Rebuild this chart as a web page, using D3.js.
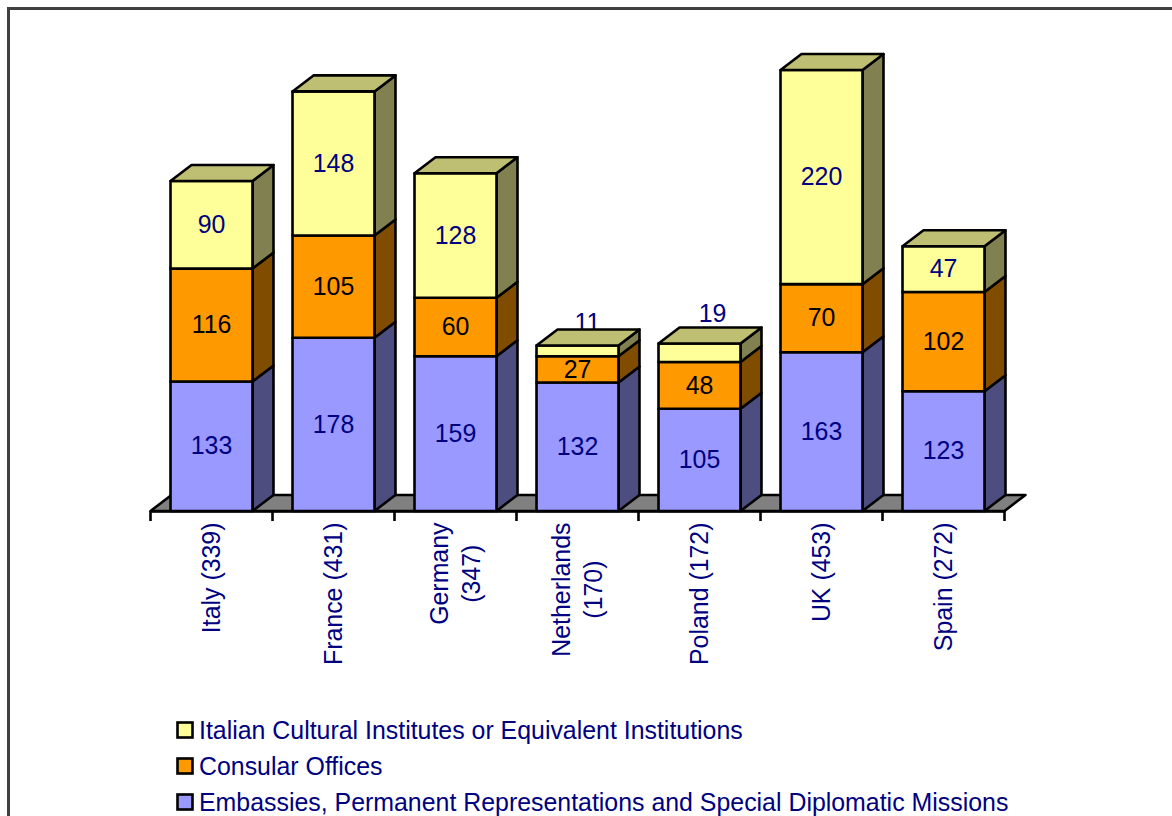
<!DOCTYPE html>
<html><head><meta charset="utf-8">
<script src="https://cdn.jsdelivr.net/npm/d3@7/dist/d3.min.js"></script>
<style>html,body{margin:0;padding:0;background:#fff;overflow:hidden}svg{display:block}text{font-family:"Liberation Sans",Arial,sans-serif}</style>
</head><body><svg id="c" width="1172" height="816"></svg>
<script>
const categories = ["Italy (339)","France (431)","Germany (347)","Netherlands (170)","Poland (172)","UK (453)","Spain (272)"];
const axisLines = [["Italy (339)"],["France (431)"],["Germany","(347)"],["Netherlands","(170)"],["Poland (172)"],["UK (453)"],["Spain (272)"]];
const embassies = [133,178,159,132,105,163,123];
const consular = [116,105,60,27,48,70,102];
const institutes = [90,148,128,11,19,220,47];
const seriesNames = ["Embassies, Permanent Representations and Special Diplomatic Missions","Consular Offices","Italian Cultural Institutes or Equivalent Institutions"];
const seriesFill = ["#9999FF","#FF9900","#FFFF99"];
const seriesSide = ["#4D4D80","#804D00","#808050"];
const seriesTop = ["#7373BF","#BF7300","#BFBF73"];
const seriesLabel = ["#000080","#000000","#000080"];
const seriesValues = [embassies,consular,institutes];
const navy = "#000080";
const fontSize = 24.9, sw = 2.6;
const depth = {dx:21, dy:-16};
const shifted = {3:{dx:10,dy:-23.5},4:{dx:13,dy:-30.5}}; // small top segments whose labels sit above the bar

const svg = d3.select("#c");
svg.append("path").attr("d","M8.5,816V8.5H1172").attr("fill","none").attr("stroke","#404040").attr("stroke-width",3);

const x = d3.scaleBand().domain(categories).range([150.5,1004.5]).paddingInner(0.328).paddingOuter(0.164);
const y = d3.scaleLinear().domain([0,500]).range([511,24.25]);
const tickScale = d3.scaleLinear().domain([0,categories.length]).range([150.5,1004.5]);
const pts = a => a.map(p=>p.join(",")).join(" ");

// floor
svg.append("polygon")
  .attr("points",pts([[150.5,y(0)],[150.5+depth.dx,y(0)+depth.dy],[1004.5+depth.dx,y(0)+depth.dy],[1004.5,y(0)]]))
  .attr("fill","#808080").attr("stroke","#000").attr("stroke-width",sw).attr("stroke-linejoin","round");

// axis
const ax = svg.append("g").attr("transform",`translate(0,${y(0)})`)
  .call(d3.axisBottom(tickScale).tickValues(d3.range(categories.length+1)).tickFormat("").tickSize(10).tickSizeOuter(0));
ax.selectAll("path,line").attr("stroke","#000").attr("stroke-width",sw);
ax.selectAll("g.tick").attr("transform",(d)=>`translate(${tickScale(d)},0)`);

// stacks
const stacked = categories.map((c,i)=>{let s=0;return seriesValues.map((v,k)=>{const o={c,i,k,v:v[i],y0:s,y1:s+v[i]};s+=v[i];return o;});});

// labels above the bars, under the top faces
const above = svg.append("g");
stacked.forEach(st=>{
  const d = st[2], o = shifted[d.i];
  if(!o) return;
  above.append("text").attr("x",x(d.c)+x.bandwidth()/2+o.dx).attr("y",y(d.y1)+o.dy).attr("dy",".35em")
    .attr("text-anchor","middle").attr("font-size",fontSize).attr("fill",seriesLabel[2]).text(d.v);
});

const bars = svg.append("g");
stacked.forEach(st=>{
  const g = bars.append("g");
  const x0 = x(st[0].c), x1 = x0+x.bandwidth();
  st.forEach(d=>{
    const yb=y(d.y0), yt=y(d.y1);
    const common = s=>s.attr("stroke","#000").attr("stroke-width",sw).attr("stroke-linejoin","round");
    common(g.append("polygon").attr("points",pts([[x1,yb],[x1+depth.dx,yb+depth.dy],[x1+depth.dx,yt+depth.dy],[x1,yt]])).attr("fill",seriesSide[d.k]));
    common(g.append("rect").attr("x",x0).attr("y",yt).attr("width",x1-x0).attr("height",yb-yt).attr("fill",seriesFill[d.k]));
    if(d.k===2) common(g.append("polygon").attr("points",pts([[x0,yt],[x0+depth.dx,yt+depth.dy],[x1+depth.dx,yt+depth.dy],[x1,yt]])).attr("fill",seriesTop[d.k]));
  });
});
stacked.forEach(st=>st.forEach(d=>{
  if(d.k===2 && shifted[d.i]) return;
  bars.append("text").attr("x",x(d.c)+x.bandwidth()/2).attr("y",(y(d.y0)+y(d.y1))/2).attr("dy",".33em")
    .attr("text-anchor","middle").attr("font-size",fontSize).attr("fill",seriesLabel[d.k]).text(d.v);
}));

// category labels
categories.forEach((c,i)=>{
  const lines = axisLines[i], lh = 32;
  const cx = x(c)+x.bandwidth()/2 - 0.5;
  const t = svg.append("text").attr("transform",`translate(${cx},522.5) rotate(-90)`)
    .attr("font-size",fontSize).attr("fill",navy).attr("text-anchor","middle");
  const tmp = svg.append("text").attr("font-size",fontSize).text(lines.reduce((a,b)=>a.length>=b.length?a:b));
  const w = tmp.node().getComputedTextLength(); tmp.remove();
  lines.forEach((l,j)=>{
    t.append("tspan").attr("x",-w/2).attr("y",(j-(lines.length-1)/2)*lh).attr("dy",".35em").text(l);
  });
});

// legend
const legendOrder = [2,1,0], legendY = [730,766,802];
legendOrder.forEach((k,r)=>{
  svg.append("rect").attr("x",177.5).attr("y",legendY[r]-7.5).attr("width",15).attr("height",15)
    .attr("fill",seriesFill[k]).attr("stroke","#000").attr("stroke-width",sw);
  svg.append("text").attr("x",199).attr("y",legendY[r]).attr("dy",".35em").attr("font-size",fontSize).attr("fill",navy).text(seriesNames[k]);
});
</script></body></html>
